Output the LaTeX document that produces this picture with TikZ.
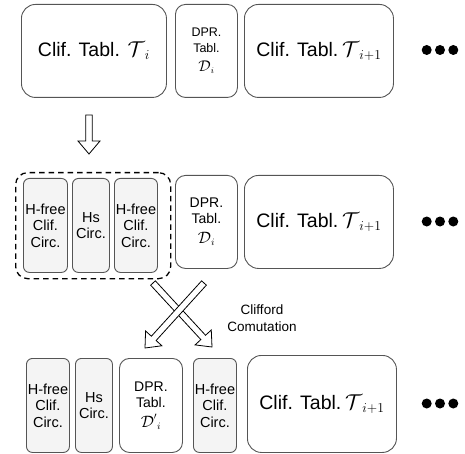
\RequirePackage{fix-cm}
\documentclass[tikz,border=0pt]{standalone}
\usepackage{fontspec}
\setmainfont{Liberation Sans}
\usetikzlibrary{calc}

\definecolor{boxline}{RGB}{85,85,85}
\definecolor{circfill}{RGB}{244,244,244}

\tikzset{
  basebox/.style={draw=boxline, line width=0.9pt, anchor=north west, inner sep=0pt,
    align=center, text=black},
  tabbox/.style={basebox, rounded corners=14pt, minimum height=93pt,
    font=\fontsize{19.5}{23}\selectfont},
  dprbox/.style={basebox, rounded corners=10pt, minimum width=62pt, minimum height=93pt,
    font=\fontsize{14}{16}\selectfont},
  circbox/.style={basebox, rounded corners=6pt, fill=circfill, minimum height=94pt,
    font=\fontsize{14.5}{16.5}\selectfont},
  dotmark/.style={circle, fill=black, inner sep=0pt, minimum size=10pt},
  grpbox/.style={draw=black, dash pattern=on 5.5pt off 4pt, line width=1.3pt,
    rounded corners=12pt, anchor=north west, inner sep=0pt},
  hollow/.style={draw=black, line width=0.8pt, fill=white, line join=miter},
  note/.style={align=center, font=\fontsize{13.5}{17}\selectfont, inner sep=0pt},
}

% calligraphic letter #1 set at size #2 (subscripts keep the surrounding size)
\newcommand{\calbig}[2]{\mbox{\fontsize{#2}{#2}\selectfont$\mathcal{#1}$}}

% hollow block arrow from coordinate #1 to its tip #2
\newcommand{\hollowarrow}[2]{%
  \coordinate (#1#2h) at ($(#2)!13pt!(#1)$);
  \draw[hollow] ($(#1)!3.2pt!90:(#2)$) -- ($(#1#2h)!3.2pt!90:(#2)$)
    -- ($(#1#2h)!11pt!90:(#2)$) -- (#2) -- ($(#1#2h)!11pt!-90:(#2)$)
    -- ($(#1#2h)!3.2pt!-90:(#2)$) -- ($(#1)!3.2pt!-90:(#2)$) -- cycle;}

\begin{document}
\begin{tikzpicture}[x=1pt, y=-1pt]
\useasboundingbox (0,0) rectangle (465,454);

% ---- first row: tableaux before commutation
\node[tabbox, minimum width=145pt] (ta) at (21,4) {Clif. Tabl.\hspace{0.4em}$\calbig{T}{21.5}_i$};
\node[dprbox, font=\fontsize{12.5}{15.5}\selectfont] (da) at (175,4) {DPR.\\Tabl.\\[4pt]$\calbig{D}{15.5}_i$};
\node[tabbox, minimum width=149pt] (tb) at (244,4) {Clif. Tabl.\hspace{0.2em}$\calbig{T}{21.5}_{i+1}$};
\node[dotmark] (d1a) at (426.7,50) {};
\node[dotmark] (d1b) at (440,50) {};
\node[dotmark] (d1c) at (453.3,50) {};

% ---- second row: Clifford tableau split into circuits
\node[grpbox, minimum width=155pt, minimum height=106pt] (grp) at (15,172) {};
\node[circbox, minimum width=44pt] (ca) at (23,178) {H-free\\Clif.\\Circ.};
\node[circbox, minimum width=37pt] (cb) at (72,178) {Hs\\Circ.};
\node[circbox, minimum width=43pt] (cc) at (114,178) {H-free\\Clif.\\Circ.};
\node[dprbox] (db) at (175,175) {DPR.\\Tabl.\\[4pt]$\calbig{D}{16.5}_i$};
\node[tabbox, minimum width=149pt] (tc) at (244,175) {Clif. Tabl.\hspace{0.2em}$\calbig{T}{21.5}_{i+1}$};
\node[dotmark] (d2a) at (426.7,221.5) {};
\node[dotmark] (d2b) at (440,221.5) {};
\node[dotmark] (d2c) at (453.3,221.5) {};

% ---- third row: after Clifford commutation
\node[circbox, minimum width=43pt] (ce) at (26,358) {H-free\\Clif.\\Circ.};
\node[circbox, minimum width=37pt] (cf) at (75,358) {Hs\\Circ.};
\node[dprbox, minimum width=63pt, minimum height=94pt] (dc) at (119,358) {DPR.\\Tabl.\\[4pt]${\calbig{D}{16.5}'}_i$};
\node[circbox, minimum width=43pt] (cg) at (193,358) {H-free\\Clif.\\Circ.};
\node[tabbox, minimum width=149pt, minimum height=97pt] (td) at (247,355) {Clif. Tabl.\hspace{0.2em}$\calbig{T}{21.5}_{i+1}$};
\node[dotmark] (d3a) at (426.7,403.5) {};
\node[dotmark] (d3b) at (440,403.5) {};
\node[dotmark] (d3c) at (453.3,403.5) {};

% ---- arrows
\coordinate (downs) at (89,115);
\coordinate (downt) at (89,154);
\hollowarrow{downs}{downt}

\coordinate (crsa) at (153,283);
\coordinate (crta) at (212,347);
\coordinate (crsb) at (204,283);
\coordinate (crtb) at (145,348);
\hollowarrow{crsa}{crta}
\hollowarrow{crsb}{crtb}

\node[note] (lbl) at (262,318.5) {Clifford\\Comutation};
\end{tikzpicture}
\end{document}
